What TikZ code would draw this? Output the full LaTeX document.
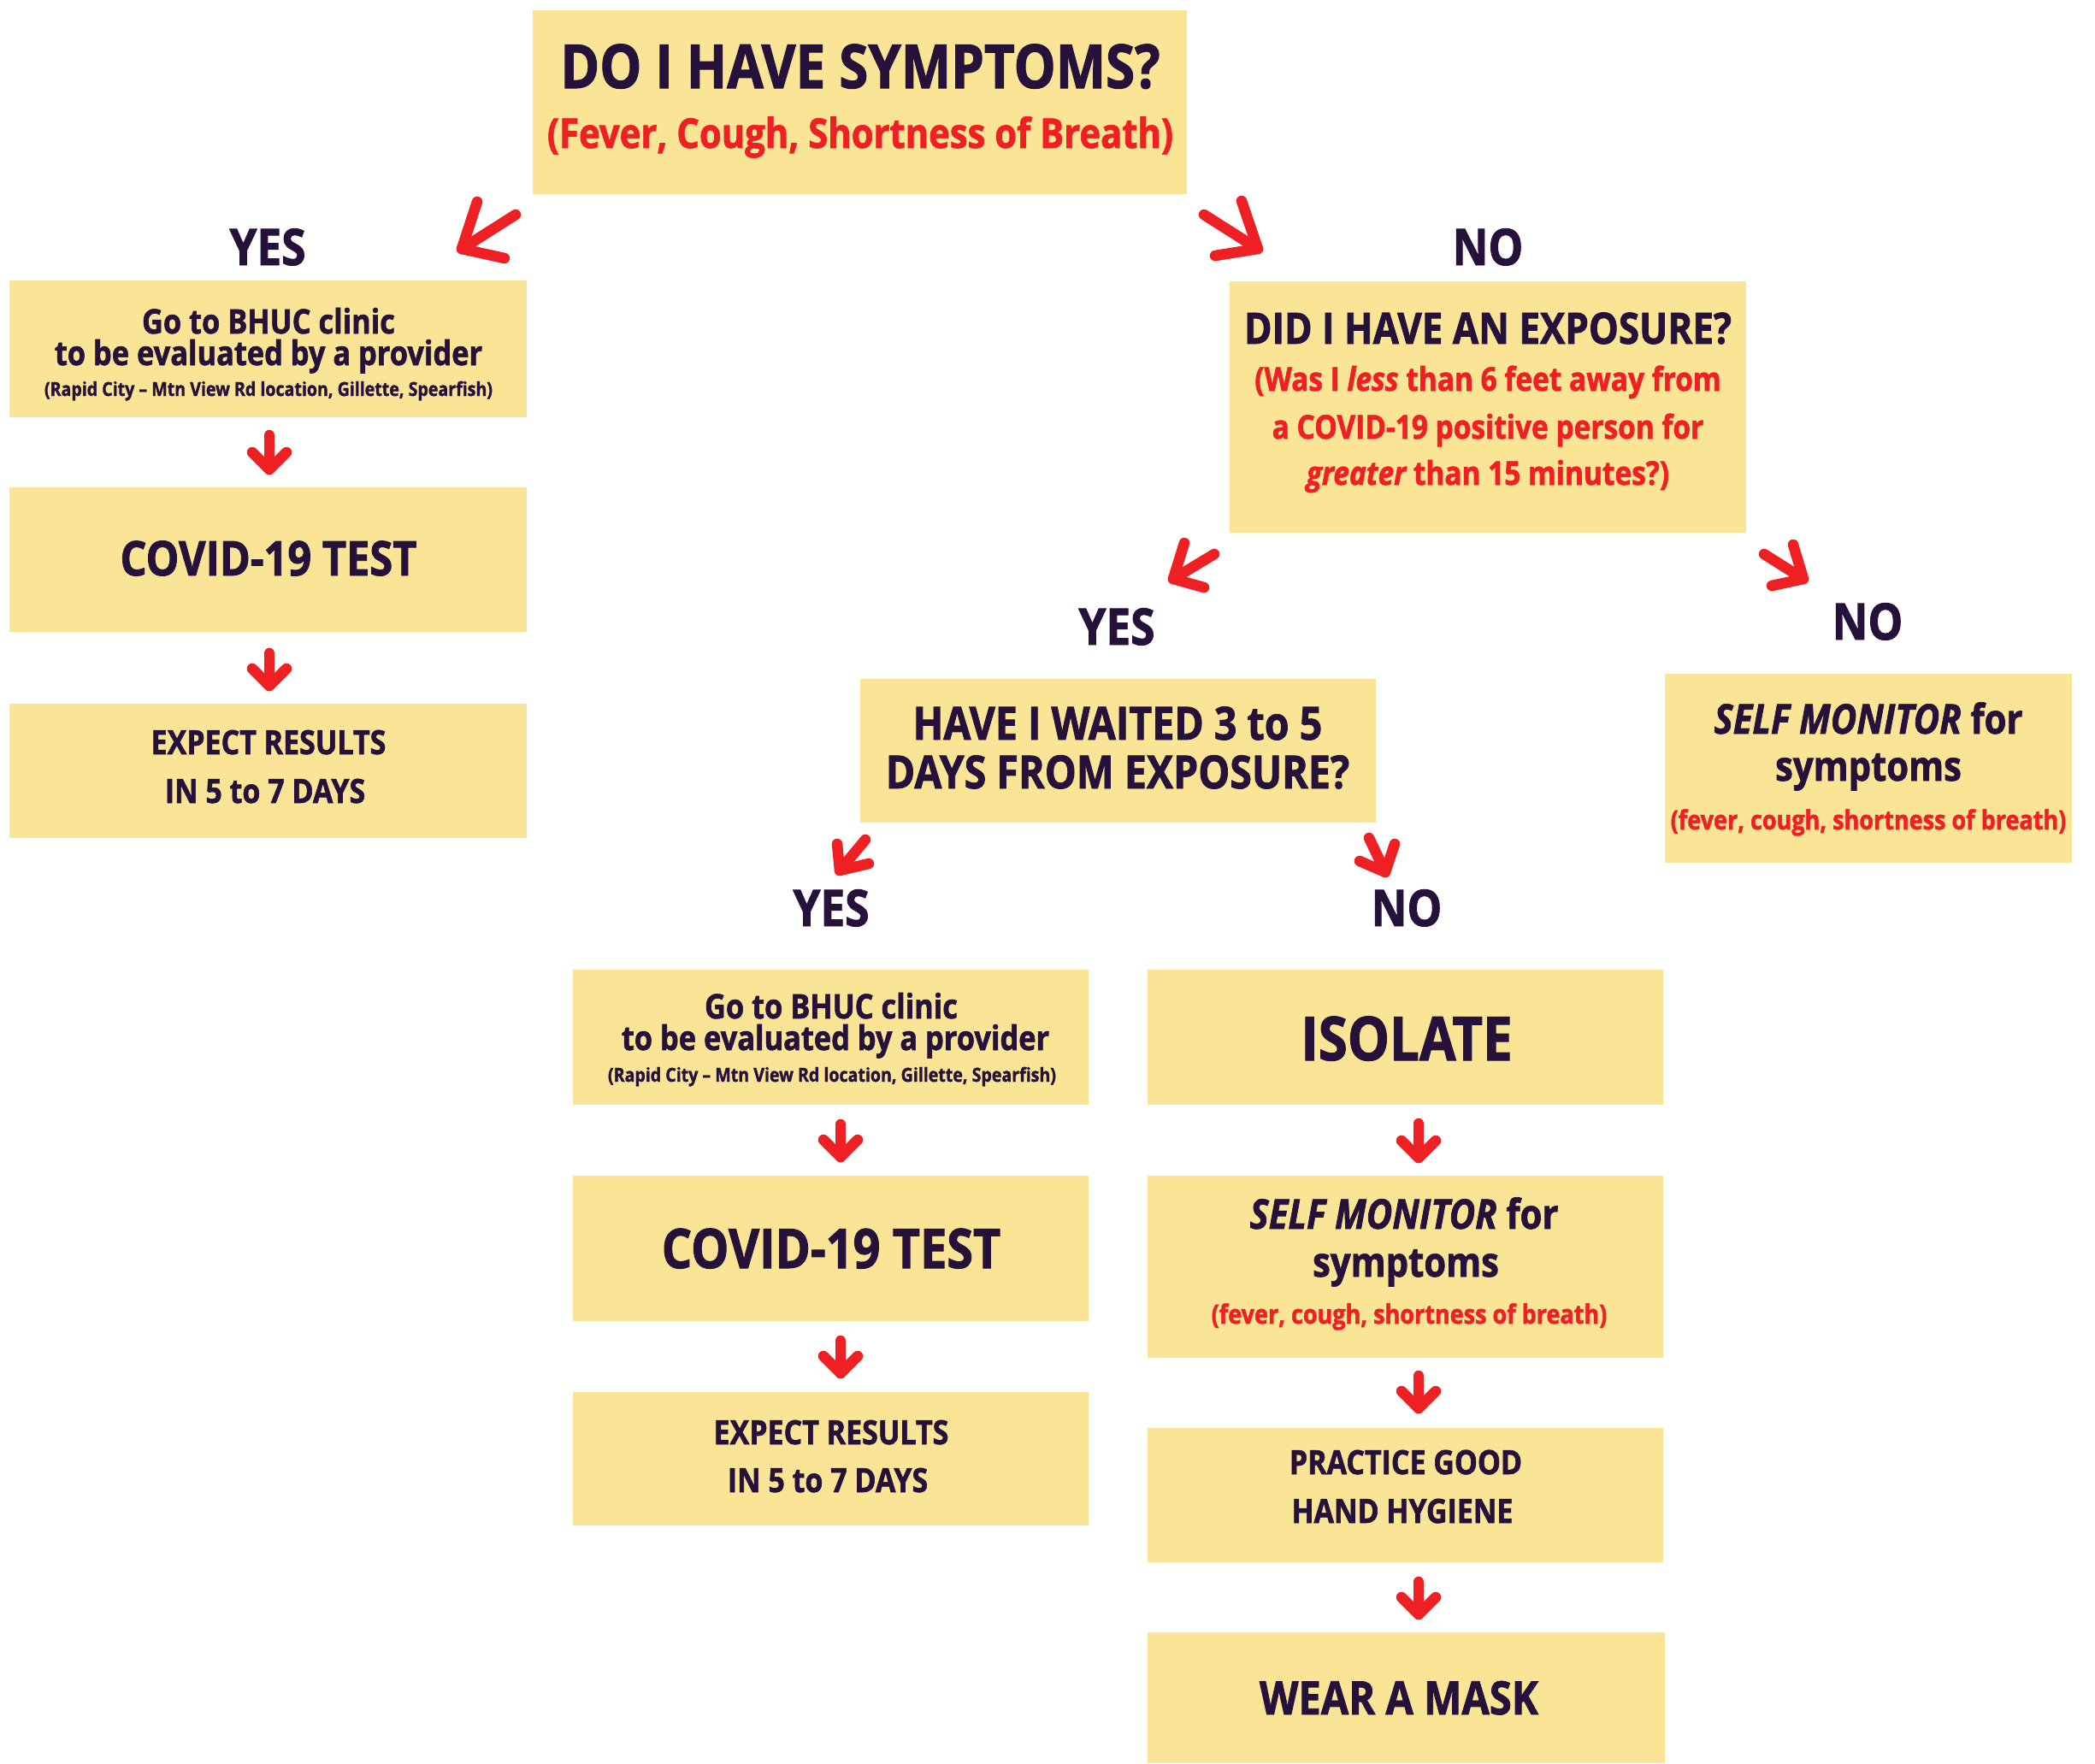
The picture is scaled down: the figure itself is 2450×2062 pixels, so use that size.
\documentclass[tikz,border=0pt]{standalone}
\usepackage{fontspec}
\usetikzlibrary{fit}
\newfontfamily\osb{Open Sans}[FakeStretch=0.87,FakeBold=1.5]
\definecolor{boxy}{RGB}{249,229,149}
\definecolor{ink}{RGB}{38,17,58}
\definecolor{arrred}{RGB}{238,32,36}
\newcommand\fpx[1]{\pgfmathsetmacro\tmpfs{#1*0.28453}\fontsize{\tmpfs pt}{\tmpfs pt}\selectfont}
\newcommand\chev[5]{%
  \coordinate (#1s) at (#2); \coordinate (#1t) at (#3);
  \coordinate (#1a) at (#4); \coordinate (#1b) at (#5);
  \draw[arr] (#1s) -- (#1t); \draw[arr] (#1a) -- (#1t) -- (#1b);}
\tikzset{
  box/.style={fill=boxy, draw=none, inner sep=0pt},
  txt/.style={anchor=base, inner sep=0pt, text=ink, font=\osb\bfseries},
  rtxt/.style={anchor=base, inner sep=0pt, text=arrred, font=\osb\bfseries},
  arr/.style={draw=arrred, line width=0.125cm, line cap=round, line join=round}
}
\begin{document}
\begin{tikzpicture}[x=0.01cm,y=-0.01cm]
\useasboundingbox[fill=white] (0,0) rectangle (2450,2062);
% boxes
\node[box, fit={(623,12) (1388,227)}] (top) {};
\node[box, fit={(11,328) (616,488)}] (L1) {};
\node[box, fit={(11,570) (616,739)}] (L2) {};
\node[box, fit={(11,823) (616,980)}] (L3) {};
\node[box, fit={(1438,329) (2042,623)}] (EXP) {};
\node[box, fit={(1006,794) (1609,962)}] (WAIT) {};
\node[box, fit={(1947,788) (2423,1009)}] (SMR) {};
\node[box, fit={(670,1134) (1273,1292)}] (M1) {};
\node[box, fit={(670,1375) (1273,1545)}] (M2) {};
\node[box, fit={(670,1628) (1273,1784)}] (M3) {};
\node[box, fit={(1342,1134) (1945,1292)}] (R1) {};
\node[box, fit={(1342,1375) (1945,1588)}] (R2) {};
\node[box, fit={(1342,1670) (1945,1827)}] (R3) {};
\node[box, fit={(1342,1909) (1947,2062)}] (R4) {};
% top
\node[txt] (topA) at (1006,103) {\fpx{71}DO I HAVE SYMPTOMS?};
\node[rtxt] (topB) at (1006,173) {\fpx{48}(Fever, Cough, Shortness of Breath)};
% labels
\node[txt] (yes1) at (313,310) {\fpx{59}YES};
\node[txt] (no1) at (1740,310) {\fpx{59}NO};
\node[txt] (yes2) at (1306,754) {\fpx{59}YES};
\node[txt] (no2) at (2184,748) {\fpx{59}NO};
\node[txt] (yes3) at (972,1083) {\fpx{59}YES};
\node[txt] (no3) at (1645,1083) {\fpx{59}NO};
% left column
\node[txt] (L1a) at (314,390) {\fpx{39.5}Go to BHUC clinic};
\node[txt] (L1b) at (314,427) {\fpx{39.5}to be evaluated by a provider};
\node[txt] (L1c) at (314,463) {\fpx{22.5}(Rapid City – Mtn View Rd location, Gillette, Spearfish)};
\node[txt] (L2a) at (314,673) {\fpx{56}COVID-19 TEST};
\node[txt] (L3a) at (314,882) {\fpx{39}EXPECT RESULTS};
\node[txt] (L3b) at (310,939) {\fpx{39}IN 5 to 7 DAYS};
% exposure
\node[txt] (EXa) at (1740,402) {\fpx{50.5}DID I HAVE AN EXPOSURE?};
\node[rtxt] (EXb) at (1740,457) {\fpx{38.4}(Was I \itshape less\upshape{} than 6 feet away from};
\node[rtxt] (EXc) at (1740,513) {\fpx{38.4}a COVID-19 positive person for};
\node[rtxt] (EXd) at (1740,567) {\fpx{38.4}\itshape greater\upshape{} than 15 minutes?)};
% waited
\node[txt] (WTa) at (1307,865) {\fpx{53.5}HAVE I WAITED 3 to 5};
\node[txt] (WTb) at (1307,922) {\fpx{53.5}DAYS FROM EXPOSURE?};
% self monitor right
\node[txt] (SMa) at (2185,858) {\fpx{48}\itshape SELF MONITOR\upshape{} for};
\node[txt] (SMb) at (2185,913) {\fpx{48}symptoms};
\node[rtxt] (SMc) at (2185,970) {\fpx{31}(fever, cough, shortness of breath)};
% middle column
\node[txt] (M1a) at (972,1191) {\fpx{39.5}Go to BHUC clinic};
\node[txt] (M1b) at (977,1228) {\fpx{39.5}to be evaluated by a provider};
\node[txt] (M1c) at (973,1265) {\fpx{22.5}(Rapid City – Mtn View Rd location, Gillette, Spearfish)};
\node[txt] (M2a) at (972,1483) {\fpx{64}COVID-19 TEST};
\node[txt] (M3a) at (972,1689) {\fpx{39}EXPECT RESULTS};
\node[txt] (M3b) at (968,1745) {\fpx{39}IN 5 to 7 DAYS};
% right column
\node[txt] (R1a) at (1645,1240) {\fpx{71}ISOLATE};
\node[txt] (R2a) at (1642,1437) {\fpx{48}\itshape SELF MONITOR\upshape{} for};
\node[txt] (R2b) at (1644,1493) {\fpx{48}symptoms};
\node[rtxt] (R2c) at (1648,1548) {\fpx{31}(fever, cough, shortness of breath)};
\node[txt] (R3a) at (1644,1724) {\fpx{39}PRACTICE GOOD};
\node[txt] (R3b) at (1640,1781) {\fpx{39}HAND HYGIENE};
\node[txt] (R4a) at (1636,2005) {\fpx{54}WEAR A MASK};
% slanted arrows
\chev{A1}{603,251}{540,291}{558,236}{590,302}
\chev{A2}{1408,251}{1471,291}{1452,235}{1421,299}
\chev{A3}{1420,648}{1372,677}{1385,635}{1408,687}
\chev{A4}{2063,648}{2109,677}{2097,637}{2072,685}
\chev{A5}{1012,982}{982,1018}{979,987}{1016,1010}
\chev{A6}{1601,980}{1620,1020}{1631,987}{1590,1007}
% down arrows
\chev{D1}{315,509}{315,549}{295,529}{335,529}
\chev{D2}{315,764}{315,802}{295,782}{335,782}
\chev{D3}{983,1315}{983,1353}{963,1333}{1003,1333}
\chev{D4}{983,1568}{983,1606}{963,1586}{1003,1586}
\chev{D5}{1659,1314}{1659,1354}{1639,1334}{1679,1334}
\chev{D6}{1659,1609}{1659,1647}{1639,1627}{1679,1627}
\chev{D7}{1659,1850}{1659,1888}{1639,1868}{1679,1868}
\end{tikzpicture}
\end{document}
